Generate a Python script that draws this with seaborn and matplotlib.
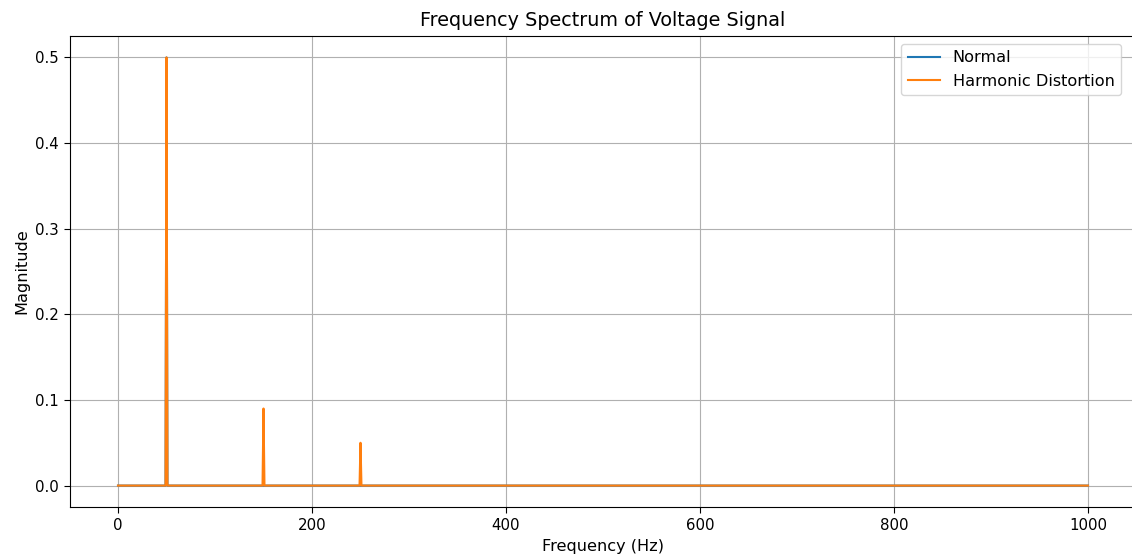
import matplotlib
matplotlib.use("Agg")
import matplotlib.pyplot as plt
import seaborn as sns

# spectrum samples (Hz, magnitude)
normal_freq = [0, 49, 50, 51, 1000]
normal_mag = [0.0, 0.0, 0.5, 0.0, 0.0]

harm_freq = [0, 49, 50, 51, 149, 150, 151, 249, 250, 251, 1000]
harm_mag = [0.0, 0.0, 0.5, 0.0, 0.0, 0.09, 0.0, 0.0, 0.05, 0.0, 0.0]

W, H, DPI = 1132, 558, 100
fig = plt.figure(figsize=(W / DPI, H / DPI), dpi=DPI)
# the reference is cropped on the right, so the axes run past the edge
ax = fig.add_axes([69.5 / W, 1 - 507 / H, 1067 / W, 471 / H])

sns.lineplot(x=normal_freq, y=normal_mag, ax=ax, color="tab:blue", label="Normal")
sns.lineplot(x=harm_freq, y=harm_mag, ax=ax, color="tab:orange", label="Harmonic Distortion")

ax.set_title("Frequency Spectrum of Voltage Signal", fontsize=13.75, pad=7)
ax.set_xlabel("Frequency (Hz)", fontsize=11.6)
ax.set_ylabel("Magnitude", fontsize=11.6)
ax.tick_params(labelsize=10.8, length=4, pad=4)
ax.grid(True)
ax.legend(loc="upper right", bbox_to_anchor=((1129 - 69.5) / 1067, 1), fontsize=11.6)

fig.savefig("out.png", dpi=DPI)
